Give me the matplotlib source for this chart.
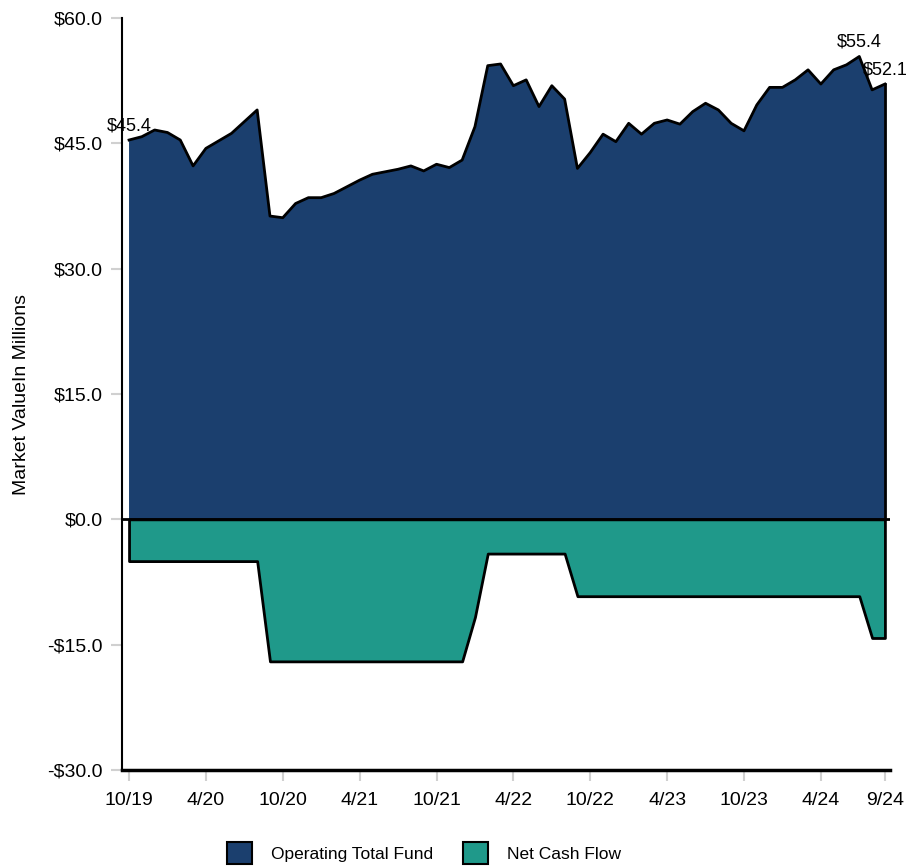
import matplotlib
matplotlib.use("Agg")
import matplotlib.pyplot as plt
from matplotlib.patches import Patch

# 資料 (月份 10/19 - 9/24)
otf = [45.4, 45.8, 46.6, 46.3, 45.4, 42.3, 44.4, 45.3, 46.2, 47.6,
       49.0, 36.3, 36.1, 37.8, 38.5, 38.5, 39.0, 39.8, 40.6, 41.3,
       41.6, 41.9, 42.3, 41.7, 42.5, 42.1, 43.0, 47.0, 54.3, 54.5,
       51.9, 52.6, 49.4, 51.9, 50.3, 42.0, 43.9, 46.1, 45.2, 47.4,
       46.1, 47.4, 47.8, 47.3, 48.8, 49.8, 49.0, 47.4, 46.5, 49.6,
       51.7, 51.7, 52.6, 53.8, 52.1, 53.8, 54.4, 55.4, 51.4, 52.1]
ncf = [-5.0] * 11 + [-17.0] * 16 + [-11.7] + [-4.1] * 7 + [-9.2] * 23 + [-14.2] * 2
tick_pos = [0, 6, 12, 18, 24, 30, 36, 42, 48, 54, 59]
tick_labels = ["10/19", "4/20", "10/20", "4/21", "10/21", "4/22",
               "10/22", "4/23", "10/23", "4/24", "9/24"]
label_idx = [0, 57, 59]

navy = "#1B3F6E"
teal = "#1F998A"

plt.rcParams["font.family"] = ["Liberation Sans", "DejaVu Sans"]
plt.rcParams["font.size"] = 14

fig = plt.figure(figsize=(9.07, 8.67), dpi=100)
ax = fig.add_axes([0.1345, 0.1119, 0.8468, 0.8673])

x = list(range(len(otf)))

# 面積圖
ax.fill_between(x, 0, otf, facecolor=navy, linewidth=0)
ax.plot(x, otf, color="black", lw=2)
ax.plot([x[-1], x[-1]], [0, otf[-1]], color="black", lw=2)
ax.fill_between(x, ncf, 0, facecolor=teal, edgecolor="black", linewidth=2)
ax.axhline(0, color="black", lw=2)

# 數值標籤
for i in label_idx:
    ax.annotate(f"${otf[i]:.1f}", (x[i], otf[i]), xytext=(0, 4),
                textcoords="offset points", ha="center", va="bottom", fontsize=13)

ax.set_xlim(-0.55, 59.4)
ax.set_ylim(-30, 60)
ax.set_xticks(tick_pos)
ax.set_xticklabels(tick_labels)
yt = [-30, -15, 0, 15, 30, 45, 60]
ax.set_yticks(yt)
ax.set_yticklabels([f"${v:.1f}" if v >= 0 else f"-${-v:.1f}" for v in yt])
ax.set_ylabel("Market ValueIn Millions", fontsize=14, labelpad=12)

ax.spines["top"].set_visible(False)
ax.spines["right"].set_visible(False)
ax.spines["left"].set_linewidth(1.5)
ax.spines["bottom"].set_linewidth(2.5)
ax.tick_params(axis="both", color="#d0d0d0", length=8, width=1.5, pad=6)
ax.tick_params(axis="x", pad=8)

handles = [Patch(facecolor=navy, edgecolor="black", linewidth=1.5, label="Operating Total Fund"),
           Patch(facecolor=teal, edgecolor="black", linewidth=1.5, label="Net Cash Flow")]
fig.legend(handles=handles, loc="center", bbox_to_anchor=(424 / 907, 1 - 853 / 867),
           ncol=2, frameon=False, fontsize=12.5, handlelength=1.45, handleheight=1.5,
           columnspacing=1.7, handletextpad=1.1)

fig.savefig("out.png", dpi=100)
plt.close()
